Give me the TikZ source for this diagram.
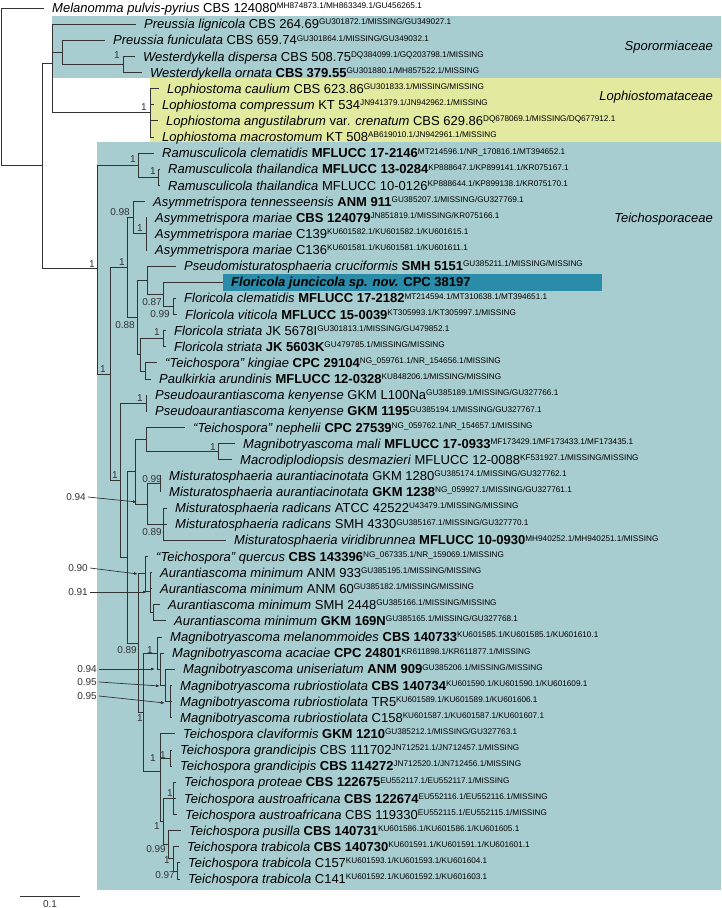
\documentclass[tikz,border=0pt]{standalone}
\usepackage{fontspec}
\setmainfont{Liberation Sans}
\usetikzlibrary{arrows.meta}

\definecolor{sporobg}{HTML}{A8CDD1}
\definecolor{lophobg}{HTML}{E3E99F}
\definecolor{teichobg}{HTML}{A8CDD1}
\definecolor{newsp}{HTML}{2A8CA9}
\definecolor{treegray}{HTML}{333333}

% accession numbers set as small raised text
\newcommand{\acc}[1]{\raisebox{3.8pt}{\fontsize{8.2}{9}\selectfont #1}}

\begin{document}
\begin{tikzpicture}[%
        x = 1pt, y = -1pt,
        > = {Latex[length=4pt, width=3pt]},
        branch/.style = {draw = treegray, line width = 1pt},
        tip/.style = {anchor = base west, inner sep = 0pt, xshift = 8pt, yshift = -4.6pt,
                      font = \fontsize{13}{15}\selectfont},
        supp/.style = {inner sep = 0pt, font = \fontsize{10}{12}\selectfont, text = treegray},
        family/.style = {anchor = east, inner sep = 0pt, font = \fontsize{13}{15}\selectfont\itshape}
    ]

        \useasboundingbox (0,0) rectangle (721,908);

        % Family boxes.
        \fill[sporobg] (52,16) rectangle (721,78);
        \fill[lophobg] (150,78) rectangle (721,142);
        \fill[teichobg] (97,142) rectangle (721,890);
        \fill[newsp] (223,274) rectangle (602,291);

        \node[family] (sporo) at (713,47) {Sporormiaceae};
        \node[family] (lopho) at (713,97) {Lophiostomataceae};
        \node[family] (teicho) at (713,219) {Teichosporaceae};

        % Tip ends.
        \coordinate (mel) at (44,8.0);
        \coordinate (prelig) at (136,24.1);
        \coordinate (prefun) at (105,40.3);
        \coordinate (wesdis) at (135,56.4);
        \coordinate (wesorn) at (142,72.5);
        \coordinate (lopcau) at (159,88.7);
        \coordinate (lopcom) at (154,104.8);
        \coordinate (lopang) at (158,120.9);
        \coordinate (lopmac) at (154,137.0);
        \coordinate (ramcle) at (154,153.2);
        \coordinate (ramth1) at (160,169.3);
        \coordinate (ramth2) at (160,185.4);
        \coordinate (asyten) at (145,201.6);
        \coordinate (asyma1) at (147,217.7);
        \coordinate (asyma2) at (147,233.8);
        \coordinate (asyma3) at (147,250.0);
        \coordinate (psecru) at (176,266.1);
        \coordinate (florjun) at (223,282.2);
        \coordinate (florcle) at (176,298.3);
        \coordinate (florvit) at (177,314.5);
        \coordinate (florst1) at (166,330.6);
        \coordinate (florst2) at (166,346.7);
        \coordinate (teikin) at (157,362.9);
        \coordinate (paulk) at (151,379.0);
        \coordinate (psken1) at (147,395.1);
        \coordinate (psken2) at (147,411.3);
        \coordinate (teineph) at (185,427.4);
        \coordinate (magmal) at (235,443.5);
        \coordinate (macdes) at (232,459.6);
        \coordinate (misau1) at (161,475.8);
        \coordinate (misau2) at (161,491.9);
        \coordinate (misra1) at (167,508.0);
        \coordinate (misra2) at (167,524.2);
        \coordinate (misvir) at (226,540.3);
        \coordinate (teique) at (148,556.4);
        \coordinate (aurmi1) at (152,572.6);
        \coordinate (aurmi2) at (152,588.7);
        \coordinate (aurmi3) at (160,604.8);
        \coordinate (aurmi4) at (166,620.9);
        \coordinate (magmel) at (162,637.1);
        \coordinate (magaca) at (164,653.2);
        \coordinate (maguni) at (175,669.3);
        \coordinate (magru1) at (172,685.5);
        \coordinate (magru2) at (172,701.6);
        \coordinate (magru3) at (172,717.7);
        \coordinate (teicla) at (175,733.9);
        \coordinate (teigr1) at (172,750.0);
        \coordinate (teigr2) at (172,766.1);
        \coordinate (teipro) at (176,782.2);
        \coordinate (teiau1) at (176,798.4);
        \coordinate (teiau2) at (177,814.5);
        \coordinate (teipus) at (181,830.6);
        \coordinate (teitr1) at (179,846.8);
        \coordinate (teitr2) at (180,862.9);
        \coordinate (teitr3) at (180,879.0);

        % Internal nodes.
        \coordinate (root) at (1,86.5);
        \coordinate (nA) at (42,165.9);
        \coordinate (nB) at (52,63.1);
        \coordinate (nC) at (62,52.4);
        \coordinate (nW) at (123,64.5);
        \coordinate (nLoph) at (150,112.9);
        \coordinate (nTei) at (97,268.7);
        \coordinate (nRam) at (138,165.3);
        \coordinate (nRt) at (158,177.4);
        \coordinate (nT2) at (110,374.2);
        \coordinate (nT3) at (127,267.6);
        \coordinate (nAsy) at (133,217.7);
        \coordinate (nAm) at (146,233.8);
        \coordinate (nF) at (137,317.5);
        \coordinate (nPF) at (147,280.2);
        \coordinate (nFlor) at (163,294.3);
        \coordinate (nFcv) at (173,306.4);
        \coordinate (nFsk) at (140,354.8);
        \coordinate (nFs) at (163,338.7);
        \coordinate (nTk) at (145,371.0);
        \coordinate (nT4) at (120,480.8);
        \coordinate (nPk) at (146,403.2);
        \coordinate (nX) at (127,557.4);
        \coordinate (nMg) at (135,471.8);
        \coordinate (nNeph) at (146,439.5);
        \coordinate (nMm) at (218,451.6);
        \coordinate (nMis) at (147,504.0);
        \coordinate (nMa) at (160,483.9);
        \coordinate (nMr) at (163,524.2);
        \coordinate (nY) at (138,643.0);
        \coordinate (nQA) at (145,573.9);
        \coordinate (nAur) at (150,591.4);
        \coordinate (nAur2) at (153,612.9);
        \coordinate (nMT) at (143,712.2);
        \coordinate (nMag) at (157,653.2);
        \coordinate (nMag2) at (160,669.3);
        \coordinate (nMag3) at (165,685.5);
        \coordinate (nMagr) at (170,701.6);
        \coordinate (nTe) at (160,771.2);
        \coordinate (nTg) at (170,758.1);
        \coordinate (nTlow) at (163,821.5);
        \coordinate (nTpr) at (173,798.4);
        \coordinate (nTp) at (168,844.7);
        \coordinate (nTr) at (173,858.9);
        \coordinate (nTr2) at (177,871.0);

        % Branches.
        \begin{scope}[branch]
            \draw (root) |- (mel);
            \draw (root) |- (nA);
            \draw (nA) |- (nB);
            \draw (nA) |- (nTei);
            \draw (nB) |- (prelig);
            \draw (nB) |- (nC);
            \draw (nB) |- (nLoph);
            \draw (nC) |- (prefun);
            \draw (nC) |- (nW);
            \draw (nW) |- (wesdis);
            \draw (nW) |- (wesorn);
            \draw (nLoph) |- (lopcau);
            \draw (nLoph) |- (lopcom);
            \draw (nLoph) |- (lopang);
            \draw (nLoph) |- (lopmac);
            \draw (nTei) |- (nRam);
            \draw (nTei) |- (nT2);
            \draw (nRam) |- (ramcle);
            \draw (nRam) |- (nRt);
            \draw (nRt) |- (ramth1);
            \draw (nRt) |- (ramth2);
            \draw (nT2) |- (nT3);
            \draw (nT2) |- (nT4);
            \draw (nT3) |- (nAsy);
            \draw (nT3) |- (nF);
            \draw (nAsy) |- (asyten);
            \draw (nAsy) |- (nAm);
            \draw (nAm) |- (asyma1);
            \draw (nAm) |- (asyma2);
            \draw (nAm) |- (asyma3);
            \draw (nF) |- (nPF);
            \draw (nF) |- (nFsk);
            \draw (nPF) |- (psecru);
            \draw (nPF) |- (nFlor);
            \draw (nFlor) |- (florjun);
            \draw (nFlor) |- (nFcv);
            \draw (nFcv) |- (florcle);
            \draw (nFcv) |- (florvit);
            \draw (nFsk) |- (nFs);
            \draw (nFsk) |- (nTk);
            \draw (nFs) |- (florst1);
            \draw (nFs) |- (florst2);
            \draw (nTk) |- (teikin);
            \draw (nTk) |- (paulk);
            \draw (nT4) |- (nPk);
            \draw (nT4) |- (nX);
            \draw (nPk) |- (psken1);
            \draw (nPk) |- (psken2);
            \draw (nX) |- (nMg);
            \draw (nX) |- (nY);
            \draw (nMg) |- (nNeph);
            \draw (nMg) |- (nMis);
            \draw (nNeph) |- (teineph);
            \draw (nNeph) |- (nMm);
            \draw (nMm) |- (magmal);
            \draw (nMm) |- (macdes);
            \draw (nMis) |- (nMa);
            \draw (nMis) |- (nMr);
            \draw (nMa) |- (misau1);
            \draw (nMa) |- (misau2);
            \draw (nMr) |- (misra1);
            \draw (nMr) |- (misra2);
            \draw (nMr) |- (misvir);
            \draw (nY) |- (nQA);
            \draw (nY) |- (nMT);
            \draw (nQA) |- (teique);
            \draw (nQA) |- (nAur);
            \draw (nAur) |- (aurmi1);
            \draw (nAur) |- (aurmi2);
            \draw (nAur) |- (nAur2);
            \draw (nAur2) |- (aurmi3);
            \draw (nAur2) |- (aurmi4);
            \draw (nMT) |- (nMag);
            \draw (nMT) |- (nTe);
            \draw (nMag) |- (magmel);
            \draw (nMag) |- (nMag2);
            \draw (nMag2) |- (magaca);
            \draw (nMag2) |- (nMag3);
            \draw (nMag3) |- (maguni);
            \draw (nMag3) |- (nMagr);
            \draw (nMagr) |- (magru1);
            \draw (nMagr) |- (magru2);
            \draw (nMagr) |- (magru3);
            \draw (nTe) |- (teicla);
            \draw (nTe) |- (nTg);
            \draw (nTe) |- (nTlow);
            \draw (nTg) |- (teigr1);
            \draw (nTg) |- (teigr2);
            \draw (nTlow) |- (nTpr);
            \draw (nTlow) |- (nTp);
            \draw (nTpr) |- (teipro);
            \draw (nTpr) |- (teiau1);
            \draw (nTpr) |- (teiau2);
            \draw (nTp) |- (teipus);
            \draw (nTp) |- (nTr);
            \draw (nTr) |- (teitr1);
            \draw (nTr) |- (nTr2);
            \draw (nTr2) |- (teitr2);
            \draw (nTr2) |- (teitr3);
        \end{scope}

        % Tip labels.
        \node[tip] (melL) at (mel) {\textit{Melanomma pulvis-pyrius} CBS 124080\acc{MH874873.1/MH863349.1/GU456265.1}};
        \node[tip] (preligL) at (prelig) {\textit{Preussia lignicola} CBS 264.69\acc{GU301872.1/MISSING/GU349027.1}};
        \node[tip] (prefunL) at (prefun) {\textit{Preussia funiculata} CBS 659.74\acc{GU301864.1/MISSING/GU349032.1}};
        \node[tip] (wesdisL) at (wesdis) {\textit{Westerdykella dispersa} CBS 508.75\acc{DQ384099.1/GQ203798.1/MISSING}};
        \node[tip] (wesornL) at (wesorn) {\textit{Westerdykella ornata} \textbf{CBS 379.55}\acc{GU301880.1/MH857522.1/MISSING}};
        \node[tip] (lopcauL) at (lopcau) {\textit{Lophiostoma caulium} CBS 623.86\acc{GU301833.1/MISSING/MISSING}};
        \node[tip] (lopcomL) at (lopcom) {\textit{Lophiostoma compressum} KT 534\acc{JN941379.1/JN942962.1/MISSING}};
        \node[tip] (lopangL) at (lopang) {\textit{Lophiostoma angustilabrum} var. \textit{crenatum} CBS 629.86\acc{DQ678069.1/MISSING/DQ677912.1}};
        \node[tip] (lopmacL) at (lopmac) {\textit{Lophiostoma macrostomum} KT 508\acc{AB619010.1/JN942961.1/MISSING}};
        \node[tip] (ramcleL) at (ramcle) {\textit{Ramusculicola clematidis} \textbf{MFLUCC 17-2146}\acc{MT214596.1/NR\_170816.1/MT394652.1}};
        \node[tip] (ramth1L) at (ramth1) {\textit{Ramusculicola thailandica} \textbf{MFLUCC 13-0284}\acc{KP888647.1/KP899141.1/KR075167.1}};
        \node[tip] (ramth2L) at (ramth2) {\textit{Ramusculicola thailandica} MFLUCC 10-0126\acc{KP888644.1/KP899138.1/KR075170.1}};
        \node[tip] (asytenL) at (asyten) {\textit{Asymmetrispora tennesseensis} \textbf{ANM 911}\acc{GU385207.1/MISSING/GU327769.1}};
        \node[tip] (asyma1L) at (asyma1) {\textit{Asymmetrispora mariae} \textbf{CBS 124079}\acc{JN851819.1/MISSING/KR075166.1}};
        \node[tip] (asyma2L) at (asyma2) {\textit{Asymmetrispora mariae} C139\acc{KU601582.1/KU601582.1/KU601615.1}};
        \node[tip] (asyma3L) at (asyma3) {\textit{Asymmetrispora mariae} C136\acc{KU601581.1/KU601581.1/KU601611.1}};
        \node[tip] (psecruL) at (psecru) {\textit{Pseudomisturatosphaeria cruciformis} \textbf{SMH 5151}\acc{GU385211.1/MISSING/MISSING}};
        \node[tip] (florjunL) at (florjun) {\textbf{\textit{Floricola juncicola sp. nov.} CPC 38197}};
        \node[tip] (florcleL) at (florcle) {\textit{Floricola clematidis} \textbf{MFLUCC 17-2182}\acc{MT214594.1/MT310638.1/MT394651.1}};
        \node[tip] (florvitL) at (florvit) {\textit{Floricola viticola} \textbf{MFLUCC 15-0039}\acc{KT305993.1/KT305997.1/MISSING}};
        \node[tip] (florst1L) at (florst1) {\textit{Floricola striata} JK 5678I\acc{GU301813.1/MISSING/GU479852.1}};
        \node[tip] (florst2L) at (florst2) {\textit{Floricola striata} \textbf{JK 5603K}\acc{GU479785.1/MISSING/MISSING}};
        \node[tip] (teikinL) at (teikin) {\textit{“Teichospora” kingiae} \textbf{CPC 29104}\acc{NG\_059761.1/NR\_154656.1/MISSING}};
        \node[tip] (paulkL) at (paulk) {\textit{Paulkirkia arundinis} \textbf{MFLUCC 12-0328}\acc{KU848206.1/MISSING/MISSING}};
        \node[tip] (psken1L) at (psken1) {\textit{Pseudoaurantiascoma kenyense} GKM L100Na\acc{GU385189.1/MISSING/GU327766.1}};
        \node[tip] (psken2L) at (psken2) {\textit{Pseudoaurantiascoma kenyense} \textbf{GKM 1195}\acc{GU385194.1/MISSING/GU327767.1}};
        \node[tip] (teinephL) at (teineph) {\textit{“Teichospora” nephelii} \textbf{CPC 27539}\acc{NG\_059762.1/NR\_154657.1/MISSING}};
        \node[tip] (magmalL) at (magmal) {\textit{Magnibotryascoma mali} \textbf{MFLUCC 17-0933}\acc{MF173429.1/MF173433.1/MF173435.1}};
        \node[tip] (macdesL) at (macdes) {\textit{Macrodiplodiopsis desmazieri} MFLUCC 12-0088\acc{KF531927.1/MISSING/MISSING}};
        \node[tip] (misau1L) at (misau1) {\textit{Misturatosphaeria aurantiacinotata} GKM 1280\acc{GU385174.1/MISSING/GU327762.1}};
        \node[tip] (misau2L) at (misau2) {\textit{Misturatosphaeria aurantiacinotata} \textbf{GKM 1238}\acc{NG\_059927.1/MISSING/GU327761.1}};
        \node[tip] (misra1L) at (misra1) {\textit{Misturatosphaeria radicans} ATCC 42522\acc{U43479.1/MISSING/MISSING}};
        \node[tip] (misra2L) at (misra2) {\textit{Misturatosphaeria radicans} SMH 4330\acc{GU385167.1/MISSING/GU327770.1}};
        \node[tip] (misvirL) at (misvir) {\textit{Misturatosphaeria viridibrunnea} \textbf{MFLUCC 10-0930}\acc{MH940252.1/MH940251.1/MISSING}};
        \node[tip] (teiqueL) at (teique) {\textit{“Teichospora” quercus} \textbf{CBS 143396}\acc{NG\_067335.1/NR\_159069.1/MISSING}};
        \node[tip] (aurmi1L) at (aurmi1) {\textit{Aurantiascoma minimum} ANM 933\acc{GU385195.1/MISSING/MISSING}};
        \node[tip] (aurmi2L) at (aurmi2) {\textit{Aurantiascoma minimum} ANM 60\acc{GU385182.1/MISSING/MISSING}};
        \node[tip] (aurmi3L) at (aurmi3) {\textit{Aurantiascoma minimum} SMH 2448\acc{GU385166.1/MISSING/MISSING}};
        \node[tip] (aurmi4L) at (aurmi4) {\textit{Aurantiascoma minimum} \textbf{GKM 169N}\acc{GU385165.1/MISSING/GU327768.1}};
        \node[tip] (magmelL) at (magmel) {\textit{Magnibotryascoma melanommoides} \textbf{CBS 140733}\acc{KU601585.1/KU601585.1/KU601610.1}};
        \node[tip] (magacaL) at (magaca) {\textit{Magnibotryascoma acaciae} \textbf{CPC 24801}\acc{KR611898.1/KR611877.1/MISSING}};
        \node[tip] (maguniL) at (maguni) {\textit{Magnibotryascoma uniseriatum} \textbf{ANM 909}\acc{GU385206.1/MISSING/MISSING}};
        \node[tip] (magru1L) at (magru1) {\textit{Magnibotryascoma rubriostiolata} \textbf{CBS 140734}\acc{KU601590.1/KU601590.1/KU601609.1}};
        \node[tip] (magru2L) at (magru2) {\textit{Magnibotryascoma rubriostiolata} TR5\acc{KU601589.1/KU601589.1/KU601606.1}};
        \node[tip] (magru3L) at (magru3) {\textit{Magnibotryascoma rubriostiolata} C158\acc{KU601587.1/KU601587.1/KU601607.1}};
        \node[tip] (teiclaL) at (teicla) {\textit{Teichospora claviformis} \textbf{GKM 1210}\acc{GU385212.1/MISSING/GU327763.1}};
        \node[tip] (teigr1L) at (teigr1) {\textit{Teichospora grandicipis} CBS 111702\acc{JN712521.1/JN712457.1/MISSING}};
        \node[tip] (teigr2L) at (teigr2) {\textit{Teichospora grandicipis} \textbf{CBS 114272}\acc{JN712520.1/JN712456.1/MISSING}};
        \node[tip] (teiproL) at (teipro) {\textit{Teichospora proteae} \textbf{CBS 122675}\acc{EU552117.1/EU552117.1/MISSING}};
        \node[tip] (teiau1L) at (teiau1) {\textit{Teichospora austroafricana} \textbf{CBS 122674}\acc{EU552116.1/EU552116.1/MISSING}};
        \node[tip] (teiau2L) at (teiau2) {\textit{Teichospora austroafricana} CBS 119330\acc{EU552115.1/EU552115.1/MISSING}};
        \node[tip] (teipusL) at (teipus) {\textit{Teichospora pusilla} \textbf{CBS 140731}\acc{KU601586.1/KU601586.1/KU601605.1}};
        \node[tip] (teitr1L) at (teitr1) {\textit{Teichospora trabicola} \textbf{CBS 140730}\acc{KU601591.1/KU601591.1/KU601601.1}};
        \node[tip] (teitr2L) at (teitr2) {\textit{Teichospora trabicola} C157\acc{KU601593.1/KU601593.1/KU601604.1}};
        \node[tip] (teitr3L) at (teitr3) {\textit{Teichospora trabicola} C141\acc{KU601592.1/KU601592.1/KU601603.1}};

        % Support values.
        \node[supp] (sW) at (117,55) {1};
        \node[supp] (sLoph) at (144,107) {1};
        \node[supp] (sTei) at (92,264) {1};
        \node[supp] (sRam) at (133,159) {1};
        \node[supp] (sRt) at (153,171) {1};
        \node[supp] (sAsy) at (120,212) {0.98};
        \node[supp] (sAm) at (140,228) {1};
        \node[supp] (sT3) at (122,262) {1};
        \node[supp] (sFlor) at (152,302) {0.87};
        \node[supp] (sFcv) at (160,314) {0.99};
        \node[supp] (sF) at (125,325) {0.88};
        \node[supp] (sFs) at (157,332) {1};
        \node[supp] (sT2) at (103,369) {1};
        \node[supp] (sPk) at (140,398) {1};
        \node[supp] (sMm) at (213,447) {1};
        \node[supp] (sT4) at (115,475) {1};
        \node[supp] (sMa) at (152,479) {0.99};
        \node[supp] (sMr) at (152,532) {0.89};
        \node[supp] (sY) at (127,650) {0.89};
        \node[supp] (sMag) at (150,650) {1};
        \node[supp] (sMT) at (140,718) {1};
        \node[supp] (sTe) at (153,758) {1};
        \node[supp] (sTg) at (163,755) {1};
        \node[supp] (sTpr) at (170,793) {1};
        \node[supp] (sTlow) at (157,826) {1};
        \node[supp] (sTp) at (156,849) {0.99};
        \node[supp] (sTr) at (167,860) {1};
        \node[supp] (sTr2) at (165,875) {0.97};

        % Support values pointed to with arrows.
        \node[supp] (aMis) at (76,497) {0.94};
        \node[supp] (aQA) at (78,568) {0.90};
        \node[supp] (aAur) at (78,592) {0.91};
        \node[supp] (aMag2) at (87,669) {0.94};
        \node[supp] (aMag3) at (87,682) {0.95};
        \node[supp] (aMagr) at (87,696) {0.95};
        \coordinate (aMisT) at (137,502);
        \coordinate (aQAT) at (138,574);
        \coordinate (aAurT) at (147,592);
        \coordinate (aMag2T) at (155,669);
        \coordinate (aMag3T) at (160,686);
        \coordinate (aMagrT) at (165,703);
        \begin{scope}[draw = treegray, line width = 0.7pt]
            \draw[->] (aMis.east) ++(2,0) -- (aMisT);
            \draw[->] (aQA.east) ++(2,0) -- (aQAT);
            \draw[->] (aAur.east) ++(2,0) -- (aAurT);
            \draw[->] (aMag2.east) ++(2,0) -- (aMag2T);
            \draw[->] (aMag3.east) ++(2,0) -- (aMag3T);
            \draw[->] (aMagr.east) ++(2,0) -- (aMagrT);
        \end{scope}

        % Scale bar.
        \coordinate (sb0) at (20,896);
        \coordinate (sb1) at (80,896);
        \draw[branch] (sb0) -- node[supp, below = 4pt] (sbL) {0.1} (sb1);
    \end{tikzpicture}
\end{document}
